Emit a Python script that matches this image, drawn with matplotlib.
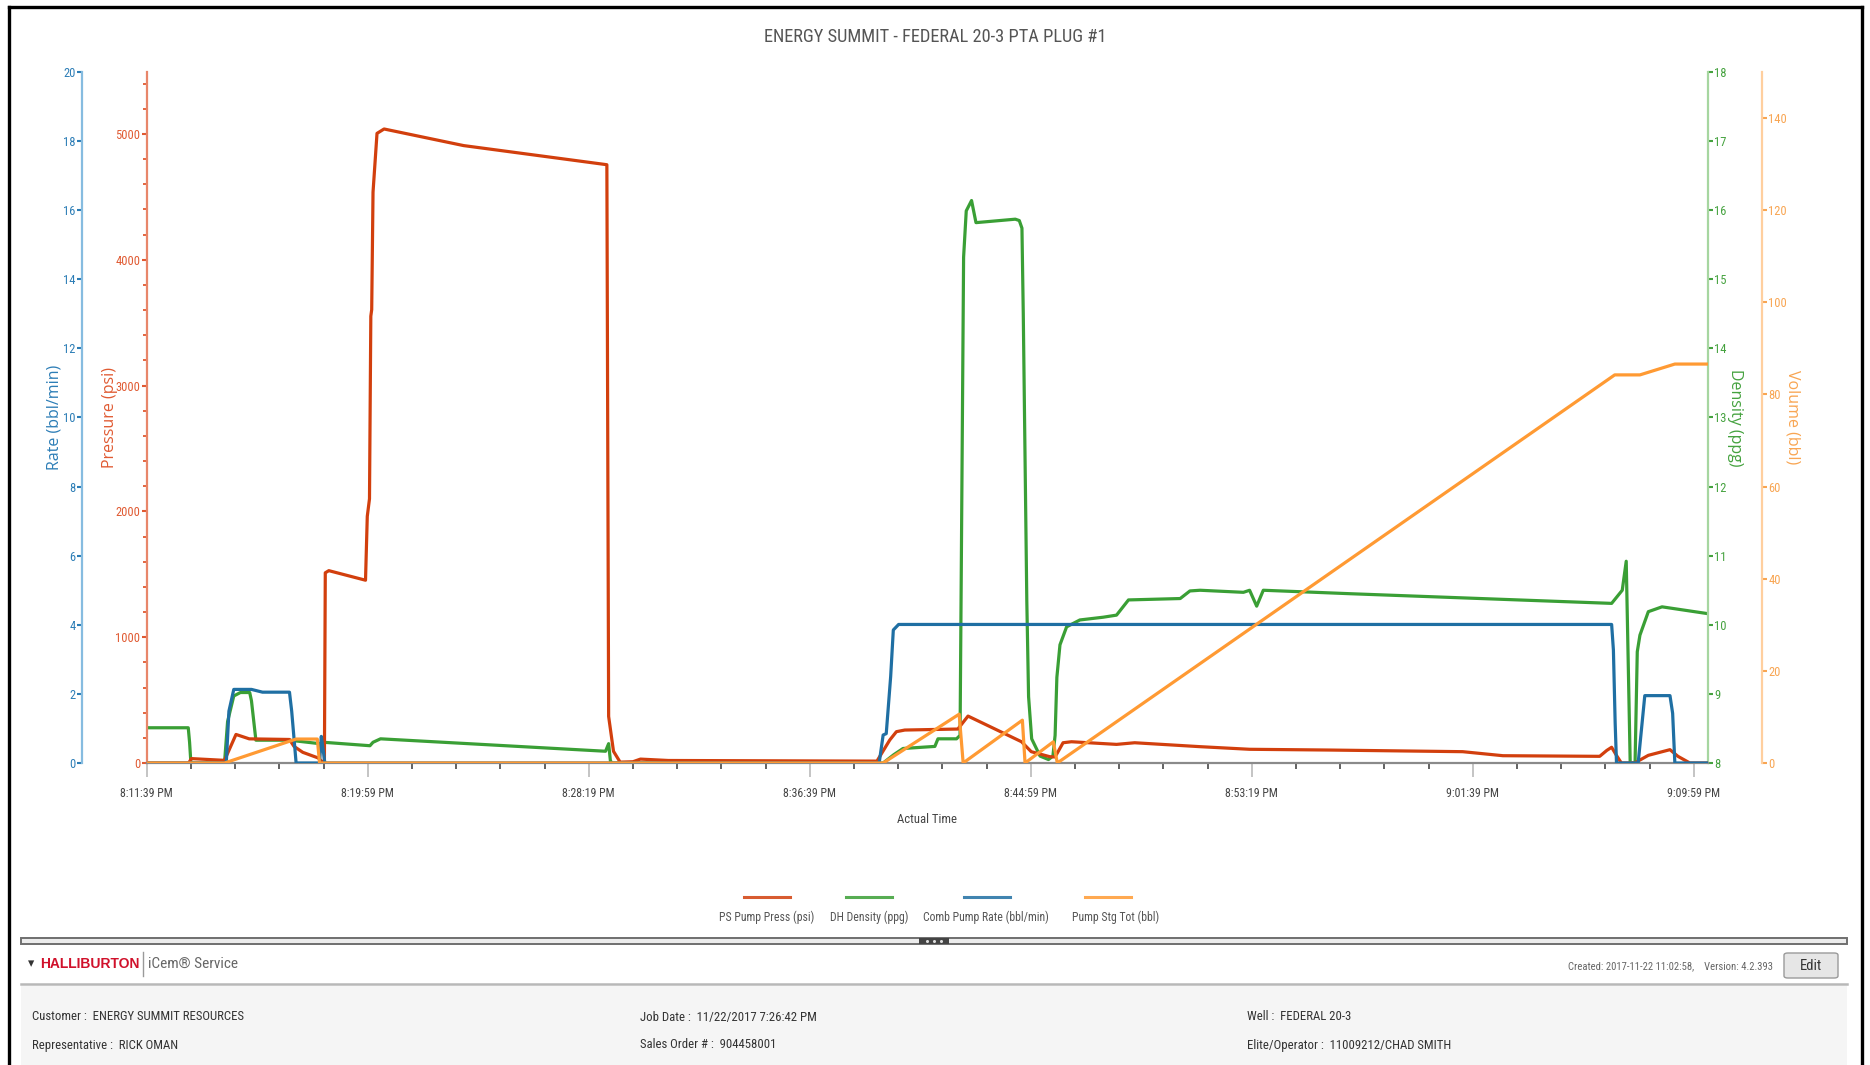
import matplotlib
matplotlib.use("Agg")
import matplotlib.pyplot as plt
from matplotlib import font_manager
from matplotlib.lines import Line2D
from matplotlib.patches import Rectangle, FancyBboxPatch
from matplotlib.ticker import MultipleLocator, FixedLocator, FixedFormatter

# ---------------------------------------------------------------- data
# elapsed seconds after 8:11:39 PM
time_ticks = [0, 500, 1000, 1500, 2000, 2500, 3000, 3500]
time_labels = ["8:11:39 PM", "8:19:59 PM", "8:28:19 PM", "8:36:39 PM",
               "8:44:59 PM", "8:53:19 PM", "9:01:39 PM", "9:09:59 PM"]

# PS Pump Press (psi)
press_t = [0, 95, 101, 176, 202, 232, 323, 333, 353, 388, 396, 402, 404, 412,
           495, 499, 504, 507, 509, 512, 521, 537, 717, 1041, 1045, 1056, 1071,
           1100, 1117, 1180, 1652, 1681, 1696, 1715, 1835, 1858, 1979, 2001,
           2043, 2055, 2073, 2092, 2194, 2235, 2382, 2495, 2676, 2977, 3068,
           3287, 3303, 3314, 3325, 3336, 3366, 3397, 3446, 3464, 3491, 3532]
press_v = [0, 0, 35, 21, 227, 192, 187, 133, 85, 40, 13, 10, 1512, 1529,
           1453, 1961, 2100, 3552, 3604, 4538, 5005, 5040, 4908, 4756, 370, 93, 7,
           10, 31, 20, 15, 183, 249, 262, 270, 373, 169, 90,
           50, 48, 161, 169, 148, 161, 130, 109, 103, 90, 58,
           53, 100, 125, 60, 0, 0, 61, 106, 53, 0, 0]

# DH Density (ppg)
dens_t = [0, 94, 97, 100, 176, 183, 197, 212, 233, 237, 247, 323, 391, 395,
          400, 505, 512, 529, 1038, 1045, 1049, 1053, 1666, 1690, 1711, 1783,
          1790, 1832, 1840, 1848, 1854, 1866, 1876, 1965, 1974, 1980, 1983,
          1991, 1995, 2002, 2021, 2040, 2050, 2055, 2059, 2066, 2081, 2111,
          2164, 2194, 2221, 2338, 2360, 2383, 2481, 2495, 2511, 2526, 2722,
          3314, 3338, 3347, 3356, 3367, 3372, 3378, 3397, 3428, 3533]
dens_v = [8.51, 8.51, 8.3, 8.0, 8.0, 8.6, 8.97, 9.02, 9.02, 8.9, 8.33, 8.33, 8.28, 8.22,
          8.30, 8.25, 8.30, 8.35, 8.17, 8.28, 8.03, 8.0, 8.0, 8.12, 8.21, 8.24,
          8.35, 8.35, 8.4, 15.32, 15.99, 16.14, 15.82, 15.87, 15.85, 15.74, 14.5,
          10.34, 8.96, 8.35, 8.1, 8.05, 8.1, 8.4, 9.24, 9.71, 9.97, 10.07,
          10.11, 10.14, 10.36, 10.38, 10.49, 10.50, 10.47, 10.50, 10.27, 10.50, 10.45,
          10.31, 10.50, 10.92, 8.0, 8.0, 9.61, 9.85, 10.19, 10.26, 10.16]

# Comb Pump Rate (bbl/min)
rate_t = [0, 180, 186, 197, 237, 262, 323, 328, 338, 391, 395, 399, 403,
          1657, 1666, 1673, 1683, 1689, 1701, 3314, 3318, 3322, 3325, 3374,
          3389, 3446, 3452, 3457, 3532]
rate_v = [0, 0, 1.5, 2.13, 2.13, 2.05, 2.05, 1.5, 0, 0, 0.77, 0.4, 0,
          0, 0.81, 0.85, 2.5, 3.85, 4.01, 4.01, 3.27, 1.15, 0, 0,
          1.95, 1.95, 1.44, 0, 0]

# Pump Stg Tot (bbl)
vol_t = [0, 176, 338, 386, 391, 1666, 1838, 1847, 1981, 1987, 2051, 2060,
         3321, 3378, 3457, 3532]
vol_v = [0, 0, 5.2, 5.2, 0, 0, 10.6, 0, 9.3, 0, 4.6, 0,
         84.25, 84.25, 86.6, 86.6]

series_names = ["PS Pump Press (psi)", "DH Density (ppg)",
                "Comb Pump Rate (bbl/min)", "Pump Stg Tot (bbl)"]

# ---------------------------------------------------------------- style
W, H = 1870, 1065
installed = {f.name for f in font_manager.fontManager.ttflist}
NARROW = [f for f in ["Liberation Sans Narrow", "Roboto Condensed", "Roboto"]
          if f in installed] + ["DejaVu Sans"]
SANS = [f for f in ["Open Sans", "Noto Sans"] if f in installed] + ["DejaVu Sans"]
BOLD = [f for f in ["Liberation Sans", "Roboto"] if f in installed] + ["DejaVu Sans"]

C_PRESS, C_PRESS_AX, C_PRESS_SP = "#d23f0d", "#e05a32", "#e8866a"
C_DENS, C_DENS_AX, C_DENS_SP = "#3a9f35", "#45a23f", "#a6d6a0"
C_RATE, C_RATE_AX, C_RATE_SP = "#1f6fa3", "#2c7db6", "#86bce0"
C_VOL, C_VOL_AX, C_VOL_SP = "#ff9a33", "#f8a552", "#ffcf9e"
TXT = "#555555"


def fx(x):
    return x / W


def fy(y):
    return 1 - y / H


fig = plt.figure(figsize=(W / 100, H / 100), dpi=100)
fig.patch.set_facecolor("white")

left, right, top, bottom = 146.7, 1708.0, 72.0, 763.0
ax_p = fig.add_axes([fx(left), fy(bottom), (right - left) / W, (bottom - top) / H])
ax_d = ax_p.twinx()
ax_r = ax_p.twinx()
ax_v = ax_p.twinx()

for i, a in enumerate([ax_d, ax_p, ax_r, ax_v]):
    a.set_zorder(2 + i)
    a.patch.set_visible(False)
    for s in a.spines.values():
        s.set_visible(False)

LW = 2.3
ax_d.plot(dens_t, dens_v, color=C_DENS, lw=LW, solid_joinstyle="round")
ax_p.plot(press_t, press_v, color=C_PRESS, lw=LW, solid_joinstyle="round")
ax_r.plot(rate_t, rate_v, color=C_RATE, lw=LW, solid_joinstyle="round")
ax_v.plot(vol_t, vol_v, color=C_VOL, lw=LW, solid_joinstyle="round")

ax_p.set_xlim(0, 3532)
ax_p.set_ylim(0, 5493)
ax_r.set_ylim(0, 20)
ax_d.set_ylim(8, 18)
ax_v.set_ylim(0, 150)

TICK_FS = 9


def style_y(a, side, offset_pt, sp_color, lab_color, ticks):
    sp = a.spines[side]
    sp.set_visible(True)
    sp.set_position(("outward", offset_pt))
    sp.set_color(sp_color)
    sp.set_linewidth(1.6)
    a.yaxis.set_ticks_position(side)
    a.yaxis.set_label_position(side)
    a.yaxis.set_major_locator(FixedLocator(ticks))
    a.tick_params(axis="y", which="major", length=3.5, width=1.5, color=lab_color,
                  labelcolor=lab_color, pad=1)


style_y(ax_p, "left", 0, C_PRESS_SP, C_PRESS_AX, [0, 1000, 2000, 3000, 4000, 5000])
style_y(ax_r, "left", 46.6, C_RATE_SP, C_RATE_AX, list(range(0, 21, 2)))
style_y(ax_d, "right", 0, C_DENS_SP, C_DENS_AX, list(range(8, 19)))
style_y(ax_v, "right", 38.9, C_VOL_SP, C_VOL_AX, list(range(0, 141, 20)))
ax_p.yaxis.set_minor_locator(FixedLocator([v for v in range(200, 5500, 200) if v % 1000]))
ax_p.tick_params(axis="y", which="minor", length=3, width=1.3, color=C_PRESS_AX)

for a in [ax_p, ax_r, ax_d, ax_v]:
    for lab in a.get_yticklabels():
        lab.set_fontfamily(NARROW)
        lab.set_fontsize(TICK_FS)


def ylabel(a, text, color, xc, rot):
    lab = a.set_ylabel(text, color=color, fontsize=11.5, family=SANS, rotation=rot)
    lab.set_rotation_mode("anchor")
    lab.set_ha("center")
    lab.set_va("center")
    a.yaxis.set_label_coords((xc - left) / (right - left), 0.5)


ylabel(ax_r, "Rate (bbl/min)", C_RATE_AX, 55, 90)
ylabel(ax_p, "Pressure (psi)", C_PRESS_AX, 110, 90)
ylabel(ax_d, "Density (ppg)", C_DENS_AX, 1735, 270)
ylabel(ax_v, "Volume (bbl)", C_VOL_AX, 1792, 270)

# time axis
bs = ax_p.spines["bottom"]
bs.set_visible(True)
bs.set_color("#8a8a8a")
bs.set_linewidth(1.6)
for a in [ax_d, ax_r, ax_v]:
    a.tick_params(axis="x", which="both", bottom=False, labelbottom=False)
ax_p.xaxis.set_major_locator(FixedLocator(time_ticks))
ax_p.xaxis.set_major_formatter(FixedFormatter(time_labels))
ax_p.xaxis.set_minor_locator(MultipleLocator(100))
ax_p.tick_params(axis="x", which="major", length=10, width=1.4, color="#c4c4c4",
                 pad=7, labelcolor="#444444")
ax_p.tick_params(axis="x", which="minor", length=4, width=1.3, color="#555555")
for lab in ax_p.get_xticklabels():
    lab.set_fontfamily(NARROW)
    lab.set_fontsize(8.6)
ax_p.set_xlabel("Actual Time", family=NARROW, fontsize=9.2, color="#444444", labelpad=10)

# title
fig.text(0.5, fy(37), "ENERGY SUMMIT - FEDERAL 20-3 PTA PLUG #1", ha="center",
         va="center", family=NARROW, fontsize=13.2, color=TXT)

# legend (line sample above each label)
leg_line_x = [767, 869, 987, 1108]
leg_text_x = [767, 869, 986, 1116]
for name, col, lx, tx in zip(series_names, [C_PRESS, C_DENS, C_RATE, C_VOL],
                             leg_line_x, leg_text_x):
    fig.add_artist(Line2D([fx(lx - 23), fx(lx + 23)], [fy(897), fy(897)],
                          color=col, lw=2.2, alpha=0.85))
    fig.text(fx(tx), fy(917), name, ha="center", va="center", family=NARROW,
             fontsize=8.5, color=TXT)

# splitter bar
fig.add_artist(Rectangle((fx(21), fy(944)), fx(1847) - fx(21), fy(938) - fy(944),
                         facecolor="#ececec", edgecolor="#6f6f6f", lw=1.4))
fig.add_artist(Rectangle((fx(919), fy(944)), fx(30), fy(938) - fy(944),
                         facecolor="#444444", edgecolor="none"))
for dx in (-7, 0, 7):
    fig.add_artist(Line2D([fx(934 + dx)], [fy(941)], marker="o", ms=1.2,
                          color="#dddddd", lw=0))

# footer header row
fig.text(fx(28), fy(964), "\u25be", ha="left", va="center", fontsize=9,
         color="#333333", family=["DejaVu Sans"])
fig.text(fx(40), fy(964), "HALLIBURTON", ha="left", va="center", fontsize=10,
         weight="bold", color="#d0112b", family=BOLD)
fig.add_artist(Line2D([fx(143), fx(143)], [fy(952), fy(976)], color="#9a9a9a", lw=1))
fig.text(fx(148), fy(964), "iCem\u00ae Service", ha="left", va="center",
         fontsize=11, color="#666666", family=NARROW)
fig.text(fx(1773), fy(966), "Created: 2017-11-22 11:02:58,    Version: 4.2.393",
         ha="right", va="center", fontsize=7.7, color="#666666", family=NARROW)
fig.add_artist(FancyBboxPatch((fx(1784), fy(978)), fx(54), fy(953) - fy(978),
                              boxstyle="round,pad=0,rounding_size=0.002",
                              facecolor="#e6e6e6", edgecolor="#9a9a9a", lw=1))
fig.text(fx(1811), fy(966), "Edit", ha="center", va="center", fontsize=10.5,
         color="#333333", family=NARROW)

# footer details panel
fig.add_artist(Line2D([fx(21), fx(1847)], [fy(984), fy(984)], color="#b8b8b8", lw=1.8))
fig.add_artist(Rectangle((fx(21), 0), fx(1847) - fx(21), fy(985.5),
                         facecolor="#f5f5f5", edgecolor="none"))
details = [
    (32, 1017, "Customer :  ENERGY SUMMIT RESOURCES"),
    (32, 1045, "Representative :  RICK OMAN"),
    (640, 1017, "Job Date :  11/22/2017 7:26:42 PM"),
    (640, 1045, "Sales Order # :  904458001"),
    (1247, 1017, "Well :  FEDERAL 20-3"),
    (1247, 1045, "Elite/Operator :  11009212/CHAD SMITH"),
]
for x, y, s in details:
    fig.text(fx(x), fy(y), s, ha="left", va="center", fontsize=9.2,
             color="#333333", family=NARROW)

# outer frame
for xs, ys in [([9, 9], [7, H]), ([9, 1862], [7, 7]), ([1862, 1862], [7, H])]:
    fig.add_artist(Line2D([fx(v) for v in xs], [fy(v) for v in ys],
                          color="black", lw=2.4))

fig.savefig("out.png", dpi=100, facecolor="white")
